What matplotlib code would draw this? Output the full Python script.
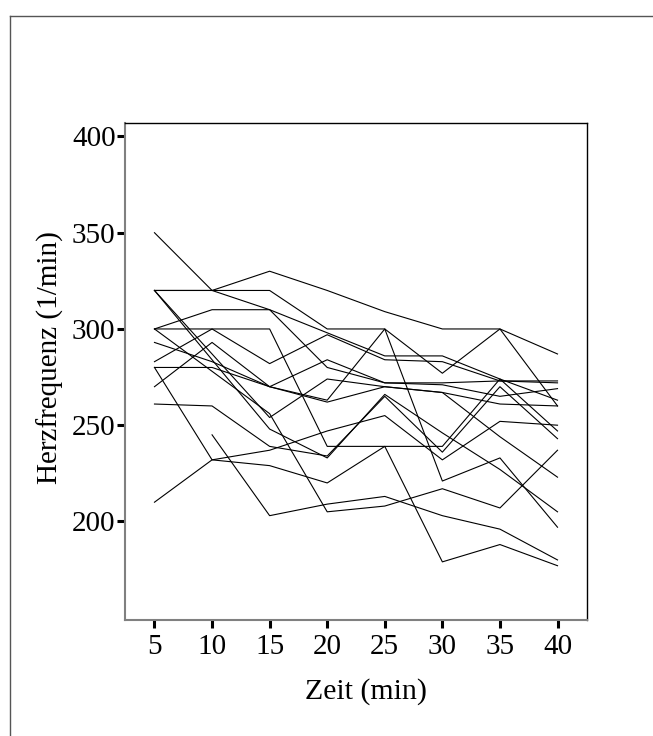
import numpy as np
import matplotlib
matplotlib.use("Agg")
import matplotlib.pyplot as plt
from matplotlib.lines import Line2D

# time points (min)
zeit = [5, 10, 15, 20, 25, 30, 35, 40]

# heart rate per animal (1/min), nan = no value
hf_01 = [350, 320, 330, 320, 309, 300, 300, 287]
hf_02 = [320, 320, 320, 300, 300, 221, 233, 197]
hf_03 = [320, 320, 310, 280, 272, 272, 273, 273]
hf_04 = [300, 310, 310, 298, 286, 286, 274, 263]
hf_05 = [300, 300, 300, 239, 239, 239, 274, 247]
hf_06 = [283, 300, 282, 297, 284, 283, 273, 272]
hf_07 = [293, 283, 270, 284, 272, 271, 265, 269]
hf_08 = [280, 280, 270, 263, 300, 277, 300, 260]
hf_09 = [270, 293, 270, 262, 270, 267, 244, 223]
hf_10 = [320, 287, 254, 274, 270, 267, 261, 260]
hf_11 = [300, 278, 256, 205, 208, 217, 207, 237]
hf_12 = [320, 284, 248, 233, 266, 246, 227, 205]
hf_13 = [261, 260, 239, 234, 265, 236, 270, 243]
hf_14 = [280, 232, 237, 247, 255, 232, 252, 250]
hf_15 = [210, 232, 229, 220, 239, 179, 188, 177]
hf_16 = [np.nan, 245, 203, 209, 213, 203, 196, 180]

alle = [hf_01, hf_02, hf_03, hf_04, hf_05, hf_06, hf_07, hf_08,
        hf_09, hf_10, hf_11, hf_12, hf_13, hf_14, hf_15, hf_16]

plt.rcParams["font.family"] = ["Liberation Serif", "DejaVu Serif"]

fig = plt.figure(figsize=(6.53, 7.36), dpi=100)
ax = fig.add_axes([125 / 653, 1 - 620 / 736, 462 / 653, 497 / 736])

for hf in alle:
    ax.plot(zeit, hf, color="black", lw=0.8)

ax.set_xlim(2.44, 42.56)
ax.set_ylim(148.8, 407)
ax.set_xticks(zeit)
ax.set_yticks([200, 250, 300, 350, 400])

ax.tick_params(axis="both", direction="out", length=5.8, width=2.2,
               color="black", labelsize=21)
ax.tick_params(axis="y", pad=1)
ax.tick_params(axis="x", pad=4)

# gray axis lines left/bottom, plain frame top/right
ax.spines["left"].set_color("#808080")
ax.spines["bottom"].set_color("#808080")
ax.spines["left"].set_linewidth(1.5)
ax.spines["bottom"].set_linewidth(1.5)
ax.spines["top"].set_linewidth(1.0)
ax.spines["right"].set_linewidth(1.0)

ax.set_xlabel("Zeit (min)", fontsize=21.5, va="center")
ax.set_ylabel("Herzfrequenz (1/min)", fontsize=21, va="center")
ax.xaxis.set_label_coords((366 - 125) / 462, (620 - 692) / 497)
ax.yaxis.set_label_coords((50 - 125) / 462, (620 - 358) / 497)

# outer frame
fig.add_artist(Line2D([10 / 653, 1], [1 - 16 / 736, 1 - 16 / 736],
                      color="#555555", lw=1.0))
fig.add_artist(Line2D([10 / 653, 10 / 653], [0, 1 - 16 / 736],
                      color="#555555", lw=1.0))

fig.savefig("out.png", dpi=100)
